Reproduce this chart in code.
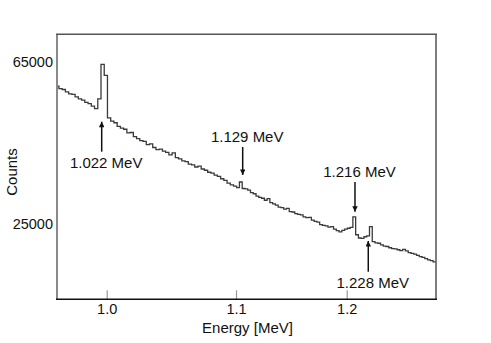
<!DOCTYPE html>
<html>
<head>
<meta charset="utf-8">
<script src="https://cdn.jsdelivr.net/npm/d3@7"></script>
<style>
  body { margin: 0; background: #fff; }
  svg { display: block; font-family: "Liberation Sans", Arial, sans-serif; }
</style>
</head>
<body>
<div id="chart"></div>
<script>
// histogram bins: start energy and width (MeV)
let binStart = 0.96059;
let binWidth = 0.0025;
let counts = [
	58900, 58300, 58100, 57500, 57000, 56900, 56300, 55800, 55500, 54900,
	54600, 54000, 53400, 55800, 64300, 61600, 51100, 50300, 49900, 49000,
	48600, 48300, 47400, 47500, 46500, 46000, 45500, 45300, 44500, 44700,
	43800, 43300, 43400, 42900, 42600, 42000, 42500, 41300, 41000, 40500,
	40300, 39700, 39500, 39000, 39200, 38500, 38200, 37700, 37500, 37000,
	36700, 36100, 35700, 35000, 34600, 34300, 33900, 35300, 33700, 33600,
	33300, 32700, 32400, 31800, 31500, 31300, 30800, 31200, 30200, 29900,
	29600, 29100, 29000, 28600, 28800, 28000, 27900, 27500, 27300, 27200,
	26700, 26500, 26600, 25900, 25600, 25400, 24800, 24600, 24500, 24200,
	24300, 23700, 23300, 23000, 23400, 23700, 23900, 24100, 26700, 22300,
	21500, 21400, 21800, 22000, 24300, 20600, 20300, 20200, 19800, 19500,
	19400, 19100, 18900, 18800, 18600, 18400, 18700, 18300, 17900, 17700,
	17500, 17200, 16900, 16700, 16400, 16100, 15900, 15600,
];

// axis
let xTicks = [1.0, 1.1, 1.2];
let yTicks = [25000, 65000];

// peak annotations (energy of arrow, counts at tip and tail)
let peakLabels = ["1.022 MeV", "1.129 MeV", "1.216 MeV", "1.228 MeV"];
let peakEnergy = [0.99613, 1.10605, 1.20749, 1.2195];
let arrowTip = [50170, 37030, 27980, 20760];
let arrowTail = [42770, 43930, 35300, 13190];

let width = 491;
let height = 343;
let frame = { left: 57, right: 436, top: 34.3, bottom: 299.3 };

let svg = d3
	.select("#chart")
	.append("svg")
	.attr("width", width)
	.attr("height", height);

// the printed energy axis is not uniform, so map each tick segment on its own
let xScale = d3
	.scaleLinear()
	.domain([0.9616, 1.0, 1.1, 1.2, 1.2807])
	.range([frame.left, 106.7, 236, 346.7, frame.right]);

let yScale = d3
	.scaleLinear()
	.domain([6390, 71700])
	.range([frame.bottom, frame.top]);

svg
	.append("defs")
	.call((d) =>
		d
			.append("clipPath")
			.attr("id", "plot-clip")
			.append("rect")
			.attr("x", frame.left)
			.attr("y", frame.top)
			.attr("width", frame.right - frame.left)
			.attr("height", frame.bottom - frame.top)
	)
	.call((d) =>
		d
			.append("marker")
			.attr("id", "head")
			.attr("viewBox", "0 0 10 10")
			.attr("refX", 10)
			.attr("refY", 5)
			.attr("markerUnits", "userSpaceOnUse")
			.attr("markerWidth", 7)
			.attr("markerHeight", 5.5)
			.attr("orient", "auto")
			.append("path")
			.attr("d", "M0,0L10,5L0,10z")
			.attr("fill", "#111")
	);

// step histogram
let steps = counts.map((c, i) => ({ e: binStart + i * binWidth, c: c }));
steps.push({ e: binStart + counts.length * binWidth, c: counts[counts.length - 1] });

let lineGenerator = d3
	.line()
	.x((d) => xScale(d.e))
	.y((d) => yScale(d.c))
	.curve(d3.curveStepAfter);

svg
	.append("path")
	.attr("clip-path", "url(#plot-clip)")
	.attr("d", lineGenerator(steps))
	.attr("fill", "none")
	.attr("stroke", "#3a3a3a")
	.attr("stroke-width", 1.3);

// x axis, ticks pointing inward
let xAxis = d3
	.axisBottom(xScale)
	.tickValues(xTicks)
	.tickSizeInner(-9)
	.tickSizeOuter(0)
	.tickPadding(4)
	.tickFormat(d3.format(".1f"));

svg
	.append("g")
	.attr("transform", `translate(0,${frame.bottom})`)
	.call(xAxis)
	.call((g) => g.select(".domain").remove())
	.call((g) => g.selectAll("line").attr("stroke", "#999").attr("stroke-width", 1.2))
	.call((g) =>
		g
			.selectAll("text")
			.attr("fill", "#111")
			.attr("font-size", "14.5px")
			.attr("font-family", "Liberation Sans, Arial, sans-serif")
	);

// y axis, labels only
let yAxis = d3
	.axisLeft(yScale)
	.tickValues(yTicks)
	.tickSize(0)
	.tickPadding(4)
	.tickFormat(d3.format("d"));

svg
	.append("g")
	.attr("transform", `translate(${frame.left},0)`)
	.call(yAxis)
	.call((g) => g.select(".domain").remove())
	.call((g) =>
		g
			.selectAll("text")
			.attr("fill", "#111")
			.attr("font-size", "14.5px")
			.attr("font-family", "Liberation Sans, Arial, sans-serif")
	);

// frame
svg
	.append("line")
	.attr("x1", frame.left).attr("x2", frame.left)
	.attr("y1", frame.top).attr("y2", frame.bottom)
	.attr("stroke", "#8a8a8a").attr("stroke-width", 2);
svg
	.append("line")
	.attr("x1", frame.left - 1).attr("x2", frame.right + 1)
	.attr("y1", frame.top).attr("y2", frame.top)
	.attr("stroke", "#555").attr("stroke-width", 1.5);
svg
	.append("line")
	.attr("x1", frame.right).attr("x2", frame.right)
	.attr("y1", frame.top).attr("y2", frame.bottom)
	.attr("stroke", "#555").attr("stroke-width", 1.5);
svg
	.append("line")
	.attr("x1", frame.left - 1).attr("x2", frame.right + 1)
	.attr("y1", frame.bottom).attr("y2", frame.bottom)
	.attr("stroke", "#111").attr("stroke-width", 1.5);

// axis titles
svg
	.append("text")
	.attr("x", 247.5)
	.attr("y", 333)
	.attr("text-anchor", "middle")
	.attr("font-size", "15px")
	.attr("fill", "#111")
	.text("Energy [MeV]");

svg
	.append("text")
	.attr("transform", "translate(17,172) rotate(-90)")
	.attr("text-anchor", "middle")
	.attr("font-size", "15px")
	.attr("fill", "#111")
	.text("Counts");

// arrows and peak labels
peakLabels.forEach((label, i) => {
	let x = xScale(peakEnergy[i]);
	let yTip = yScale(arrowTip[i]);
	let yTail = yScale(arrowTail[i]);
	let up = yTip < yTail;

	svg
		.append("line")
		.attr("x1", x).attr("x2", x)
		.attr("y1", yTail).attr("y2", yTip)
		.attr("stroke", "#111")
		.attr("stroke-width", 1.5)
		.attr("marker-end", "url(#head)");

	svg
		.append("text")
		.attr("x", x + 4.5)
		.attr("y", up ? yTail + 16.5 : yTail - 5)
		.attr("text-anchor", "middle")
		.attr("font-size", "15px")
		.attr("fill", "#111")
		.text(label);
});
</script>
</body>
</html>
